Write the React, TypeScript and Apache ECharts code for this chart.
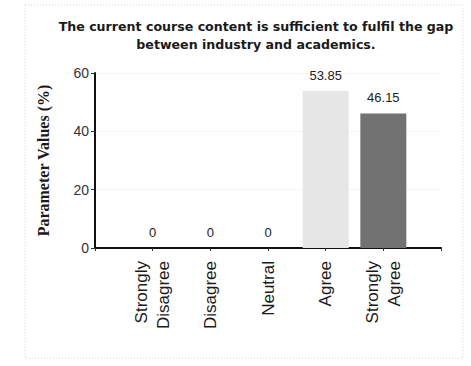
import React, { useEffect, useRef } from "react";
import * as echarts from "echarts";

const titleLines = [
  "The current course content is sufficient to fulfil the gap",
  "between industry and academics.",
];
const categories = ["Strongly\nDisagree", "Disagree", "Neutral", "Agree", "Strongly\nAgree"];
const values = [0, 0, 0, 53.85, 46.15];
const barColors = ["#e4e4e4", "#e4e4e4", "#e4e4e4", "#e6e6e6", "#727272"];
const yAxisName = "Parameter Values (%)";

export default function App() {
  const ref = useRef<HTMLDivElement>(null);
  useEffect(() => {
    if (!ref.current) return;
    const chart = echarts.init(ref.current, null, { renderer: "svg" });
    chart.setOption({
      animation: false,
      backgroundColor: "#ffffff",
      title: {
        text: titleLines.join("\n"),
        left: 251,
        top: 12,
        textAlign: "center",
        textStyle: {
          fontFamily: "DejaVu Sans",
          fontWeight: "bold",
          fontSize: 12.6,
          lineHeight: 18,
          color: "#1a1a1a",
        },
      },
      graphic: [
        {
          type: "rect",
          shape: { x: 25, y: 5, width: 438, height: 353 },
          style: { fill: "none", stroke: "#d4d4d4", lineWidth: 1, lineDash: [1, 2] },
          silent: true,
        },
      ],
      grid: { left: 95, right: 30, top: 73, bottom: 118 },
      xAxis: {
        type: "value",
        min: -1,
        max: 5,
        interval: 1,
        splitLine: { show: false },
        axisLine: { show: true, onZero: false, lineStyle: { color: "#111", width: 2 } },
        axisTick: { show: true, length: 3, lineStyle: { color: "#333" } },
        axisLabel: {
          rotate: 90,
          margin: 13,
          fontFamily: "Liberation Sans",
          fontSize: 17,
          lineHeight: 22,
          color: "#1a1a1a",
          formatter: (v: number) => (v >= 0 && v < categories.length ? categories[v] : ""),
        },
      },
      yAxis: {
        type: "value",
        min: 0,
        max: 60,
        interval: 20,
        name: yAxisName,
        nameLocation: "middle",
        nameGap: 44,
        nameTextStyle: {
          fontFamily: "Liberation Serif",
          fontWeight: "bold",
          fontSize: 16,
          color: "#1a1a1a",
        },
        axisLine: { show: true, onZero: false, lineStyle: { color: "#111", width: 2 } },
        axisTick: { show: true, length: 4, lineStyle: { color: "#333" } },
        axisLabel: {
          margin: 6,
          fontFamily: "Liberation Sans",
          fontSize: 14,
          color: "#333",
        },
        splitLine: { show: true, lineStyle: { color: "#ececec", type: "dotted" } },
      },
      series: [
        {
          type: "bar",
          barWidth: 46,
          data: values.map((v, i) => ({
            value: [i, v],
            itemStyle: { color: barColors[i] },
          })),
          label: {
            show: true,
            position: "top",
            distance: 9,
            fontFamily: "Liberation Sans",
            fontSize: 13,
            color: "#222",
            formatter: (p: any) => String(p.value[1]),
          },
        },
      ],
    });
    return () => chart.dispose();
  }, []);
  return (
    <div
      ref={ref}
      style={{ position: "absolute", left: 0, top: 0, width: 471, height: 366 }}
    />
  );
}
